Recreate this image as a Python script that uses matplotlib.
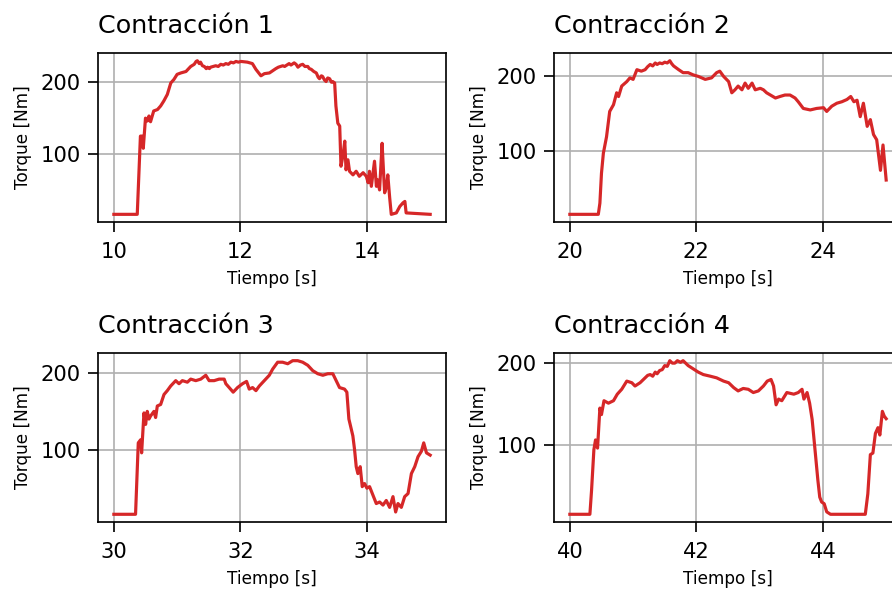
import matplotlib
matplotlib.use("Agg")
import matplotlib.pyplot as plt

# Torque registrado en cada contracción (tiempo en s, torque en Nm)
t1 = [10.0, 10.37, 10.42, 10.45, 10.465, 10.50, 10.53, 10.555, 10.58, 10.63,
      10.69, 10.74, 10.79, 10.845, 10.90, 10.95, 11.00, 11.06, 11.14, 11.215,
      11.27, 11.30, 11.32, 11.35, 11.37, 11.40, 11.43, 11.46, 11.48, 11.51,
      11.53, 11.57, 11.61, 11.65, 11.69, 11.73, 11.77, 11.81, 11.85, 11.89,
      11.93, 11.97, 12.01, 12.11, 12.19, 12.245, 12.325, 12.38, 12.46, 12.56,
      12.60, 12.67, 12.70, 12.77, 12.80, 12.85, 12.88, 12.91, 12.95, 12.985,
      13.02, 13.065, 13.09, 13.12, 13.16, 13.20, 13.23, 13.25, 13.28, 13.30,
      13.33, 13.355, 13.38, 13.41, 13.44, 13.46, 13.49, 13.51, 13.54, 13.57,
      13.59, 13.62, 13.65, 13.67, 13.70, 13.725, 13.78, 13.83, 13.88, 13.94,
      13.99, 14.02, 14.04, 14.07, 14.12, 14.15, 14.17, 14.20, 14.24, 14.25,
      14.28, 14.31, 14.33, 14.36, 14.385, 14.465, 14.52, 14.57, 14.60, 14.62,
      15.0]
torque1 = [16, 16, 125, 125, 108, 150, 146, 153, 145, 160,
           162, 167, 174, 183, 199, 204, 211, 213, 215, 222,
           225, 229, 230, 226, 228, 223, 222, 219, 221, 219,
           221, 222, 223, 222, 225, 224, 226, 225, 228, 227,
           229, 228, 229, 228, 226, 218, 209, 212, 213, 219,
           221, 223, 222, 226, 224, 227, 225, 221, 224, 225,
           222, 222, 219, 218, 215, 213, 207, 205, 209, 208,
           203, 201, 206, 205, 200, 201, 199, 167, 143, 139,
           83, 97, 118, 78, 92, 76, 71, 76, 69, 74,
           69, 60, 76, 55, 90, 55, 64, 50, 115, 97,
           46, 55, 71, 39, 16, 18, 27, 32, 34, 18,
           16]

t2 = [20.0, 20.45, 20.475, 20.50, 20.53, 20.58, 20.63, 20.69, 20.74, 20.77,
      20.82, 20.90, 20.95, 21.0, 21.06, 21.13, 21.19, 21.23, 21.27, 21.31,
      21.35, 21.38, 21.42, 21.46, 21.50, 21.54, 21.58, 21.61, 21.64, 21.72,
      21.79, 21.87, 21.95, 22.03, 22.14, 22.24, 22.32, 22.37, 22.43, 22.51,
      22.56, 22.61, 22.66, 22.72, 22.77, 22.82, 22.88, 22.93, 23.01, 23.06,
      23.11, 23.17, 23.25, 23.32, 23.40, 23.48, 23.56, 23.61, 23.69, 23.80,
      23.90, 24.01, 24.06, 24.14, 24.22, 24.30, 24.38, 24.44, 24.49, 24.54,
      24.59, 24.64, 24.70, 24.75, 24.80, 24.85, 24.91, 24.95, 25.0]
torque2 = [15, 15, 30, 70, 97, 119, 153, 162, 178, 173,
           187, 193, 198, 196, 209, 207, 209, 213, 216, 214,
           218, 216, 218, 217, 219, 218, 221, 217, 214, 209,
           205, 205, 202, 200, 196, 198, 205, 207, 200, 193,
           178, 182, 187, 182, 191, 184, 191, 182, 184, 182,
           178, 175, 171, 173, 175, 175, 171, 166, 157, 155,
           157, 158, 153, 160, 164, 166, 169, 173, 166, 168,
           146, 164, 133, 142, 122, 115, 74, 108, 61]

t3 = [30.0, 30.343, 30.386, 30.423, 30.439, 30.476, 30.502, 30.528, 30.555, 30.581,
      30.634, 30.660, 30.687, 30.740, 30.793, 30.845, 30.898, 30.978, 31.030, 31.083,
      31.162, 31.215, 31.295, 31.374, 31.453, 31.506, 31.585, 31.664, 31.744, 31.770,
      31.823, 31.886, 31.955, 32.034, 32.098, 32.140, 32.193, 32.246, 32.299, 32.378,
      32.457, 32.510, 32.589, 32.668, 32.748, 32.827, 32.906, 32.985, 33.065, 33.144,
      33.223, 33.303, 33.382, 33.461, 33.514, 33.567, 33.646, 33.683, 33.715, 33.741,
      33.778, 33.805, 33.831, 33.857, 33.894, 33.926, 33.963, 34.000, 34.042, 34.095,
      34.148, 34.201, 34.254, 34.306, 34.359, 34.412, 34.454, 34.491, 34.544, 34.597,
      34.650, 34.703, 34.756, 34.808, 34.861, 34.898, 34.941, 35.0]
torque3 = [16, 16, 109, 113, 96, 148, 133, 150, 140, 144,
           150, 142, 157, 159, 172, 177, 183, 190, 186, 190,
           188, 192, 190, 192, 197, 190, 190, 192, 192, 186,
           181, 175, 181, 186, 189, 179, 181, 177, 183, 190,
           197, 205, 214, 214, 212, 216, 216, 214, 210, 203,
           199, 197, 199, 199, 190, 181, 179, 175, 140, 131,
           118, 100, 78, 69, 78, 52, 56, 50, 52, 41,
           30, 32, 28, 34, 25, 39, 19, 30, 25, 39,
           43, 69, 78, 91, 98, 109, 96, 93]

t4 = [40.0, 40.317, 40.343, 40.38, 40.406, 40.438, 40.475, 40.50, 40.54, 40.61,
      40.69, 40.75, 40.82, 40.90, 40.98, 41.03, 41.11, 41.19, 41.23, 41.27,
      41.31, 41.35, 41.38, 41.42, 41.46, 41.50, 41.54, 41.58, 41.62, 41.66,
      41.70, 41.75, 41.79, 41.83, 41.87, 41.95, 42.03, 42.11, 42.22, 42.32,
      42.43, 42.51, 42.59, 42.66, 42.74, 42.82, 42.90, 42.98, 43.06, 43.12,
      43.18, 43.22, 43.26, 43.30, 43.35, 43.43, 43.54, 43.61, 43.67, 43.70,
      43.75, 43.79, 43.83, 43.88, 43.92, 43.95, 43.98, 44.02, 44.06, 44.12,
      44.67, 44.71, 44.75, 44.79, 44.83, 44.87, 44.90, 44.94, 44.97, 45.0]
torque4 = [15, 15, 44, 94, 106, 96, 145, 137, 154, 151,
           154, 162, 168, 178, 176, 172, 176, 182, 185, 186,
           184, 189, 187, 191, 192, 197, 196, 203, 200, 200,
           203, 201, 203, 200, 197, 193, 189, 186, 184, 182,
           178, 176, 170, 166, 169, 168, 164, 166, 172, 178,
           180, 172, 149, 156, 154, 164, 162, 164, 168, 156,
           164, 151, 131, 90, 57, 36, 30, 28, 18, 15,
           15, 40, 88, 90, 114, 121, 112, 141, 135, 132]

series = [("Contracción 1", t1, torque1), ("Contracción 2", t2, torque2),
          ("Contracción 3", t3, torque3), ("Contracción 4", t4, torque4)]

dpi = 152
fig = plt.figure(figsize=(892 / dpi, 590 / dpi), dpi=dpi)

# cuadrícula 2x2; la columna derecha queda algo recortada por el borde
left_x = [0.1099, 0.6211]
bottom_y = [0.6237, 0.1153]
w, h = 0.3901, 0.2864

for i, (titulo, t, tq) in enumerate(series):
    fila, col = divmod(i, 2)
    ax = fig.add_axes([left_x[col], bottom_y[fila], w, h])
    ax.plot(t, tq, color="tab:red", linewidth=1.5)
    ax.set_title(titulo, loc="left", fontsize=12, pad=9.5)
    ax.set_xlabel("Tiempo [s]", fontsize=8)
    ax.set_ylabel("Torque [Nm]", fontsize=8)
    ax.set_xticks([t[0], t[0] + 2, t[0] + 4])
    ax.set_yticks([100, 200])
    ax.tick_params(labelsize=10, length=4.7)
    ax.tick_params(axis="x", pad=4.7)
    ax.grid(True)

fig.savefig("out.png", dpi=dpi)
